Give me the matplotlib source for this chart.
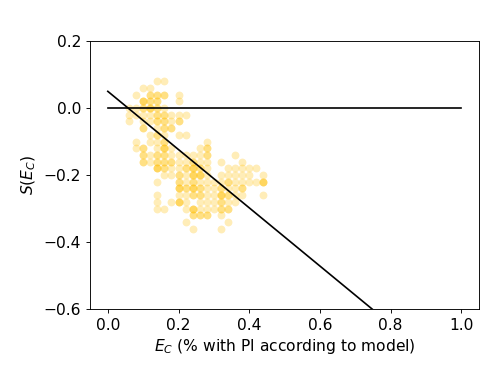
import numpy as np
import matplotlib
matplotlib.use("Agg")
import matplotlib.pyplot as plt

# ---- data ----
rows_y = [0.08, 0.06, 0.04, 0.02, 0.00, -0.02, -0.04, -0.06, -0.08, -0.10,
          -0.12, -0.14, -0.16, -0.18, -0.20, -0.22, -0.24, -0.26, -0.28,
          -0.30, -0.32, -0.34, -0.36]
rows_x = [
    [0.14, 0.16],
    [0.10, 0.12],
    [0.08, 0.12, 0.14, 0.16, 0.20],
    [0.10, 0.12, 0.14, 0.20],
    [0.06, 0.08, 0.10, 0.12, 0.14, 0.16],
    [0.06, 0.08, 0.10, 0.12, 0.14, 0.16, 0.18, 0.20, 0.22],
    [0.06, 0.10, 0.12, 0.14, 0.16, 0.18, 0.20],
    [0.10, 0.14, 0.16, 0.18],
    [0.12, 0.14, 0.16, 0.20, 0.22],
    [0.08, 0.12, 0.14, 0.16, 0.28],
    [0.08, 0.10, 0.14, 0.16, 0.18, 0.26, 0.28],
    [0.10, 0.12, 0.14, 0.16, 0.18, 0.20, 0.22, 0.24, 0.26, 0.28, 0.36],
    [0.10, 0.12, 0.14, 0.16, 0.18, 0.20, 0.22, 0.24, 0.26, 0.28, 0.32, 0.38],
    [0.14, 0.16, 0.18, 0.20, 0.22, 0.24, 0.26, 0.28, 0.34, 0.36, 0.38, 0.40, 0.42],
    [0.16, 0.18, 0.20, 0.22, 0.24, 0.26, 0.28, 0.32, 0.34, 0.36, 0.38, 0.40, 0.44],
    [0.14, 0.20, 0.22, 0.24, 0.26, 0.28, 0.30, 0.32, 0.34, 0.36, 0.38, 0.40, 0.42, 0.44],
    [0.20, 0.22, 0.24, 0.26, 0.28, 0.30, 0.32, 0.34, 0.36, 0.38],
    [0.14, 0.20, 0.22, 0.24, 0.26, 0.28, 0.30, 0.32, 0.34, 0.36, 0.38, 0.44],
    [0.14, 0.18, 0.20, 0.22, 0.26, 0.28, 0.30, 0.32, 0.34, 0.36],
    [0.14, 0.16, 0.22, 0.24, 0.26, 0.28, 0.30, 0.32, 0.34],
    [0.24, 0.26, 0.28, 0.32],
    [0.22, 0.34],
    [0.24, 0.32],
]
# number of overlapping points at each grid position (darker = more)
rows_n = [
    [1, 1],
    [1, 1],
    [1, 2, 2, 2, 1],
    [3, 2, 2, 1],
    [1, 1, 2, 3, 2, 1],
    [1, 1, 1, 1, 2, 2, 1, 1, 1],
    [1, 1, 1, 2, 2, 1, 2],
    [2, 1, 2, 2],
    [1, 2, 1, 1, 1],
    [1, 1, 1, 2, 1],
    [1, 2, 1, 3, 1, 1, 2],
    [2, 1, 2, 2, 1, 1, 1, 1, 1, 2, 1],
    [2, 1, 2, 2, 2, 1, 1, 2, 1, 1, 1, 1],
    [3, 2, 1, 1, 2, 3, 2, 1, 1, 1, 1, 1, 1],
    [1, 1, 2, 1, 3, 3, 1, 1, 1, 1, 1, 1, 1],
    [1, 2, 1, 2, 1, 1, 1, 1, 2, 1, 1, 1, 1, 3],
    [3, 2, 3, 2, 1, 1, 2, 1, 1, 2],
    [1, 1, 1, 2, 2, 1, 1, 3, 2, 1, 1, 1],
    [1, 1, 3, 1, 1, 1, 1, 2, 1, 1],
    [1, 1, 1, 3, 1, 1, 1, 2, 2],
    [2, 2, 2, 1],
    [1, 1],
    [1, 1],
]
fit_intercept = 0.05
fit_slope = -0.87
ref_level = 0.0
x_range = [0.0, 1.0]

# ---- build point arrays ----
ec_x, s_y = [], []
for y, xs, ns in zip(rows_y, rows_x, rows_n):
    for x, n in zip(xs, ns):
        ec_x += [x] * n
        s_y += [y] * n
ec_x = np.array(ec_x)
s_y = np.array(s_y)

plt.rcParams['font.family'] = ['DejaVu Sans']
fig = plt.figure(figsize=(4.98, 3.74), dpi=100)
ax = fig.add_axes([0.181, 0.174, 0.781, 0.716])

ax.scatter(ec_x, s_y, s=32, color='#FFBF00', alpha=0.28, linewidths=0, zorder=1)
xr = np.array(x_range)
ax.plot(xr, [ref_level, ref_level], color='black', lw=1.2, zorder=2)
ax.plot(xr, fit_intercept + fit_slope * xr, color='black', lw=1.2, zorder=2)

ax.set_xlim(-0.05, 1.05)
ax.set_ylim(-0.6, 0.2)
ax.set_xticks([0.0, 0.2, 0.4, 0.6, 0.8, 1.0])
ax.set_yticks([-0.6, -0.4, -0.2, 0.0, 0.2])
ax.tick_params(labelsize=11.2, width=0.65, length=3.0)
for sp in ax.spines.values():
    sp.set_linewidth(0.65)
ax.set_xlabel('$E_C$ (% with PI according to model)', fontsize=11.2, labelpad=3)
ax.set_ylabel('$S(E_C)$', fontsize=11.2, labelpad=4)

fig.savefig('out.png', dpi=100)
